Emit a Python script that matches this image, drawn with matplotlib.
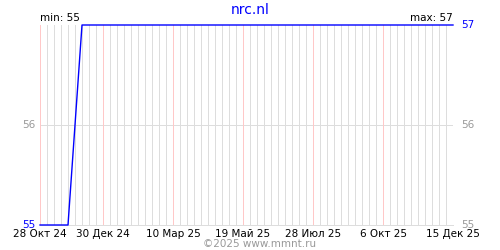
import numpy as np
import matplotlib
matplotlib.use("Agg")
import matplotlib.pyplot as plt
import matplotlib.dates as mdates

# data
dates = ["2024-10-28", "2024-11-04", "2024-11-11", "2024-11-18", "2024-11-25",
         "2024-12-09", "2025-03-10", "2025-07-28", "2025-12-15"]
values = [55, 55, 55, 55, 55, 57, 57, 57, 57]
tick_dates = ["2024-10-28", "2024-12-30", "2025-03-10", "2025-05-19",
              "2025-07-28", "2025-10-06", "2025-12-15"]
tick_labels = ["28 Окт 24", "30 Дек 24", "10 Мар 25", "19 Май 25",
               "28 Июл 25", "6 Окт 25", "15 Дек 25"]
title = "nrc.nl"
footer = "©2025 www.mmnt.ru"
y_min, y_max = 55, 57

x = mdates.datestr2num(dates)
ticks = mdates.datestr2num(tick_dates)
weeks = np.arange(ticks[0], ticks[-1] + 1, 7)
weeks = weeks[~np.isin(weeks, ticks)]

fig = plt.figure(figsize=(5, 2.5), dpi=100)
ax = fig.add_axes([0.08, 0.1, 0.826, 0.8])

# grid: grey weekly lines, pink at labelled ticks (1 px, crisp)
px = 0.72
ax.vlines(weeks, y_min, y_max, colors="#dddddd", lw=px, zorder=0,
          antialiased=False)
ax.vlines(ticks, y_min, y_max, colors="#ffc8c8", lw=px, zorder=1,
          antialiased=False)
ax.axhline(56, color="#dddddd", lw=px, zorder=0, antialiased=False)

ax.plot(x, values, color="#0000ff", lw=1, zorder=3, clip_on=False)

ax.set_xlim(ticks[0], ticks[-1])
ax.set_ylim(y_min, y_max)
for side in ["top", "right", "left"]:
    ax.spines[side].set_visible(False)
ax.spines["bottom"].set_color("#dddddd")
ax.spines["bottom"].set_linewidth(px)
ax.set_xticks(ticks)
ax.set_xticklabels(tick_labels, fontsize=7.5)
ax.tick_params(axis="x", length=0, pad=3)
ax.set_yticks([])

# axis value labels
fs = 7.5
ax.text(-0.01, 56, "56", transform=ax.get_yaxis_transform(), ha="right",
        va="center", fontsize=fs, color="#999999")
ax.text(-0.01, 55, "55", transform=ax.get_yaxis_transform(), ha="right",
        va="center", fontsize=fs, color="#0000ff")
ax.text(1.02, 56, "56", transform=ax.get_yaxis_transform(), ha="left",
        va="center", fontsize=fs, color="#999999")
ax.text(1.02, 57, "57", transform=ax.get_yaxis_transform(), ha="left",
        va="center", fontsize=fs, color="#0000ff")
ax.text(1.02, 55, "55", transform=ax.get_yaxis_transform(), ha="left",
        va="center", fontsize=fs, color="#999999")
ax.text(0.0, 1.01, "min: %d" % min(values), transform=ax.transAxes,
        ha="left", va="bottom", fontsize=fs, color="black")
ax.text(1.0, 1.01, "max: %d" % max(values), transform=ax.transAxes,
        ha="right", va="bottom", fontsize=fs, color="black")

fig.text(0.5, 0.96, title, ha="center", va="center", fontsize=10, color="#0000ff")
fig.text(0.52, 0.025, footer, ha="center", va="center", fontsize=7.5, color="#999999")

fig.savefig("out.png", dpi=100)
